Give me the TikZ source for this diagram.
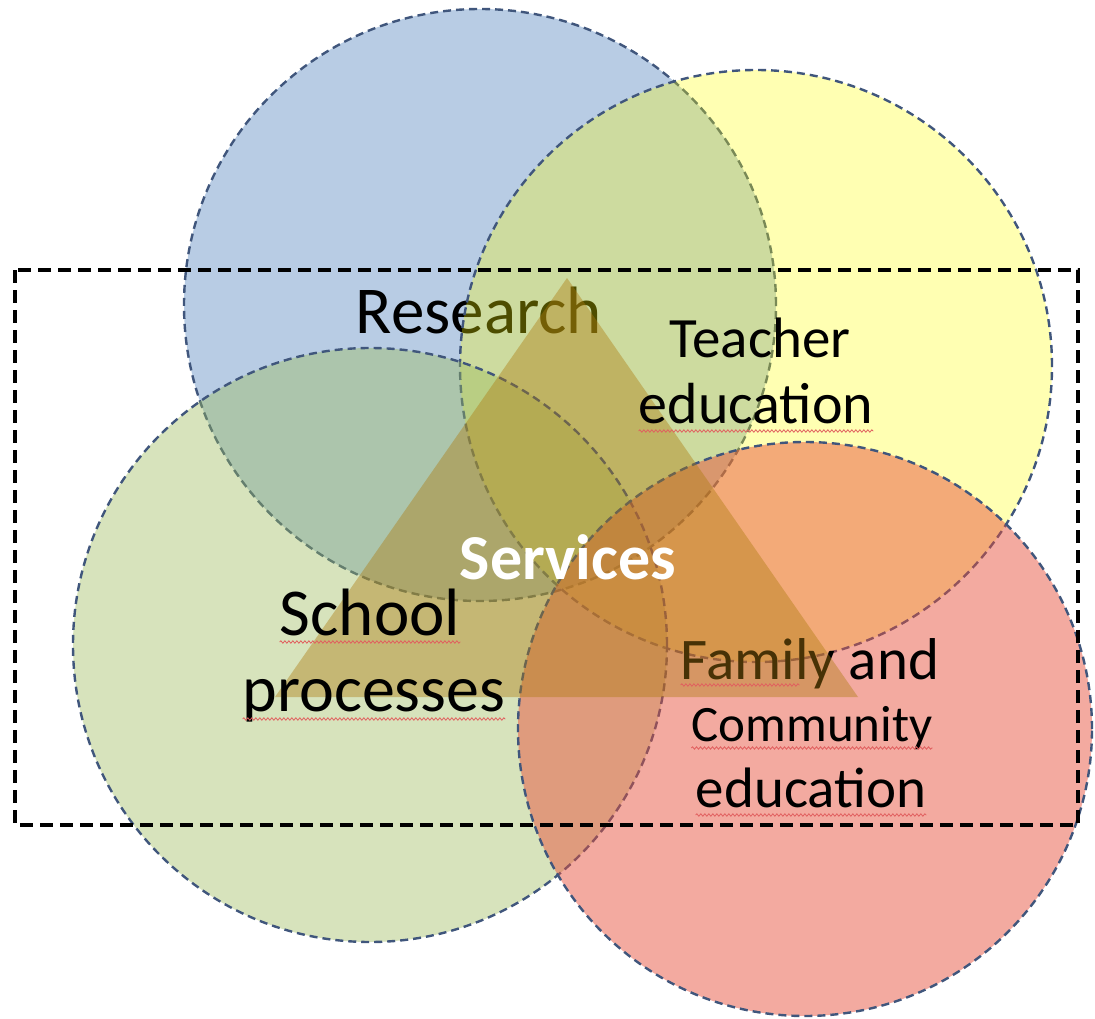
\documentclass[tikz,border=0pt]{standalone}
\usepackage{fontspec}
\setmainfont{Carlito}
\usetikzlibrary{decorations.pathmorphing,calc}
\definecolor{cblue}{RGB}{79,129,189}
\definecolor{cyellow}{RGB}{255,255,0}
\definecolor{cgreen}{RGB}{155,187,89}
\definecolor{cred}{RGB}{232,78,57}
\definecolor{ctri}{RGB}{173,122,15}
\definecolor{cline}{RGB}{64,86,124}
\definecolor{squig}{RGB}{225,95,95}
\begin{document}
\begin{tikzpicture}[x=1pt,y=-1pt,
  circ/.style={draw=cline, line width=2.4pt, dash pattern=on 8pt off 5pt},
  lbl/.style={anchor=base, inner sep=0pt, font=\fontsize{#1}{#1}\selectfont},
  squiggle/.style={draw=squig, line width=0.8pt, decorate, decoration={snake, amplitude=1.2pt, segment length=4pt}},
  frame/.style={draw=black, line width=4.4pt, dash pattern=on 13pt off 7pt}
]
\useasboundingbox (0,0) rectangle (1095,1019);
\fill[white] (0,0) rectangle (1095,1019);

% Research circle
\path[circ, fill=cblue, fill opacity=0.4] (480,305) circle[radius=296pt];
\node[lbl=67] (res) at (479,333) {Research};
% Teacher education circle
\path[circ, fill=cyellow, fill opacity=0.3] (756,366) circle[radius=296pt];
% School processes circle
\path[circ, fill=cgreen, fill opacity=0.4] (370,645) circle[radius=297pt];
% Family and community circle
\path[circ, fill=cred, fill opacity=0.48] (805,729) circle[radius=287pt];
\node[lbl=59] (fam1) at (810,679) {Family and};
\node[lbl=51] (fam2) at (812,741) {Community};
\node[lbl=57] (fam3) at (811,807) {education};

% Services triangle
\fill[ctri, opacity=0.41] (567,278) -- (858,697) -- (275,697) -- cycle;

\node[lbl=57] (tea1) at (760,357) {Teacher};
\node[lbl=58] (tea2) at (756,423) {education};
\node[lbl=67] (sch1) at (370,635) {School};
\node[lbl=66] (sch2) at (374,711) {processes};
\node[lbl=64, text=white, font=\fontsize{64}{64}\selectfont\bfseries] (srv) at (568,579) {Services};

% spelling underlines
\draw[squiggle] ($(tea2.base west)+(0,8)$) -- ($(tea2.base east)+(0,8)$);
\draw[squiggle] ($(sch1.base west)+(0,7)$) -- ($(sch1.base east)+(0,7)$);
\draw[squiggle] ($(sch2.base west)+(0,8)$) -- ($(sch2.base east)+(0,8)$);
\draw[squiggle] ($(fam1.base west)+(0,6)$) -- ($(fam1.base west)!0.46!(fam1.base east)+(0,6)$);
\draw[squiggle] ($(fam2.base west)+(0,7)$) -- ($(fam2.base east)+(0,7)$);
\draw[squiggle] ($(fam3.base west)+(0,8)$) -- ($(fam3.base east)+(0,8)$);

% dashed frame
\path[frame] (15,270) rectangle (1078,825);
\end{tikzpicture}
\end{document}
